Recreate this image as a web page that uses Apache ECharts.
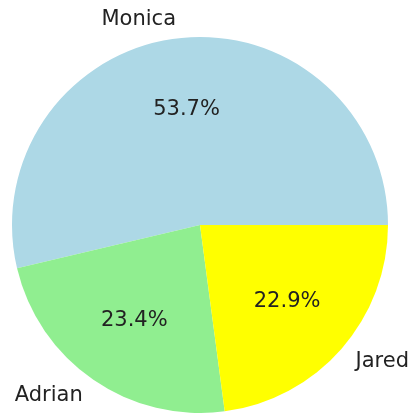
<!DOCTYPE html>
<html>
<head>
<meta charset="utf-8">
<script src="https://cdn.jsdelivr.net/npm/echarts@6/dist/echarts.min.js"></script>
<style>
  html, body { margin: 0; padding: 0; background: #fff; }
  #chart { width: 410px; height: 413px; }
</style>
</head>
<body>
<div id="chart"></div>
<script>
// 数据
const names = ['Monica', 'Adrian', 'Jared']
const values = [53.7, 23.4, 22.9]
const colors = ['#ADD8E6', '#90EE90', '#FFFF00']

const R = 188 // 饼图半径
const font = 'DejaVu Sans'

const pieData = names.map((n, i) => ({
  name: n,
  value: values[i],
  itemStyle: { color: colors[i] }
}))

const chart = echarts.init(document.getElementById('chart'))
chart.setOption({
  animation: false,
  series: [
    {
      // 主饼图 + 外侧名称
      type: 'pie',
      center: [200, 225],
      radius: [0, R],
      startAngle: 0,
      clockwise: false,
      avoidLabelOverlap: false,
      silent: true,
      data: pieData,
      label: {
        show: true,
        position: 'outside',
        formatter: '{b}',
        color: '#222',
        fontFamily: font,
        fontSize: 21,
        distanceToLabelLine: 0
      },
      labelLine: { show: false, length: R * 0.1, length2: 0 }
    },
    {
      // 透明层，只用来放百分比 (0.6 半径处)
      type: 'pie',
      center: [200, 225],
      radius: [0, R * 1.2],
      startAngle: 0,
      clockwise: false,
      avoidLabelOverlap: false,
      silent: true,
      data: names.map((n, i) => ({ name: n, value: values[i] })),
      itemStyle: { color: 'rgba(0,0,0,0)' },
      label: {
        show: true,
        position: 'inside',
        formatter: (p) => p.percent.toFixed(1) + '%',
        color: '#222',
        fontFamily: font,
        fontSize: 21
      },
      labelLine: { show: false }
    }
  ]
})
</script>
</body>
</html>
